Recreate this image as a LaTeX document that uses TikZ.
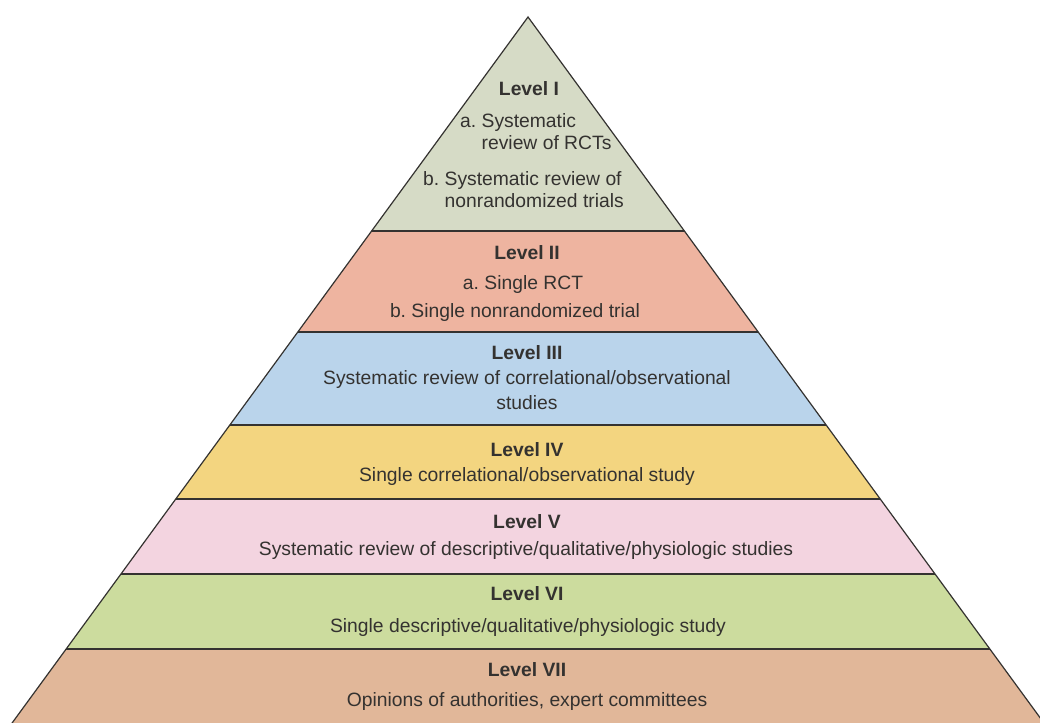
\documentclass[tikz,border=0pt]{standalone}
\usepackage{fontspec}
\setmainfont{Liberation Sans}
\definecolor{bandI}{RGB}{214,219,198}
\definecolor{bandII}{RGB}{238,180,160}
\definecolor{bandIII}{RGB}{186,212,235}
\definecolor{bandIV}{RGB}{243,213,128}
\definecolor{bandV}{RGB}{243,212,224}
\definecolor{bandVI}{RGB}{204,220,158}
\definecolor{bandVII}{RGB}{225,183,153}
\definecolor{inkgray}{RGB}{52,50,48}

\begin{document}
\begin{tikzpicture}[x=1pt,y=-1pt,
  lvl/.style={font=\fontsize{19.3}{22}\selectfont\bfseries, text=inkgray, inner sep=0pt},
  txt/.style={font=\fontsize{19.3}{22}\selectfont, text=inkgray, inner sep=0pt, align=center},
  divider/.style={draw=inkgray, line width=1.7pt}]
\useasboundingbox (0,0) rectangle (1040,722);
\clip (0,0) rectangle (1040,722);
\coordinate (apex) at (528,17);
\coordinate (bl) at (-4,745);
\coordinate (br) at (1060,745);
% bands
\begin{scope}
\clip (apex) -- (bl) -- (br) -- cycle;
\fill[bandI] (0,0) rectangle (1040,231);
\fill[bandII] (0,231) rectangle (1040,332);
\fill[bandIII] (0,332) rectangle (1040,425);
\fill[bandIV] (0,425) rectangle (1040,499);
\fill[bandV] (0,499) rectangle (1040,574);
\fill[bandVI] (0,574) rectangle (1040,649);
\fill[bandVII] (0,649) rectangle (1040,760);
\foreach \y in {231,332,425,499,574,649}
  \draw[divider] (0,\y) -- (1040,\y);
\end{scope}
\draw[inkgray, line width=1.2pt, line join=miter] (bl) -- (apex) -- (br);
% level I
\node[lvl] (lvlI) at (529,89) {Level I};
\node[txt, anchor=west] (lvlIa) at (460,134) {\begin{tabular}{@{}l@{\ }l@{}}a. & Systematic\\ & review of RCTs\end{tabular}};
\node[txt, anchor=west] (lvlIb) at (423,192) {\begin{tabular}{@{}l@{\ }l@{}}b. & Systematic review of\\ & nonrandomized trials\end{tabular}};
% level II
\node[lvl] (lvlII) at (527,253) {Level II};
\node[txt] (lvlIIa) at (523,285) {a.\ Single RCT};
\node[txt] (lvlIIb) at (515,313) {b.\ Single nonrandomized trial};
% level III
\node[lvl] (lvlIII) at (527,353) {Level III};
\node[txt] (lvlIIIa) at (527,390) {Systematic review of correlational/observational\\[3pt] studies};
% level IV
\node[lvl] (lvlIV) at (527,450) {Level IV};
\node[txt] (lvlIVa) at (527,477) {Single correlational/observational study};
% level V
\node[lvl] (lvlV) at (527,522) {Level V};
\node[txt] (lvlVa) at (526,551) {Systematic review of descriptive/qualitative/physiologic studies};
% level VI
\node[lvl] (lvlVI) at (527,594) {Level VI};
\node[txt] (lvlVIa) at (528,628) {Single descriptive/qualitative/physiologic study};
% level VII
\node[lvl] (lvlVII) at (527,670) {Level VII};
\node[txt] (lvlVIIa) at (527,702) {Opinions of authorities, expert committees};
\end{tikzpicture}
\end{document}
